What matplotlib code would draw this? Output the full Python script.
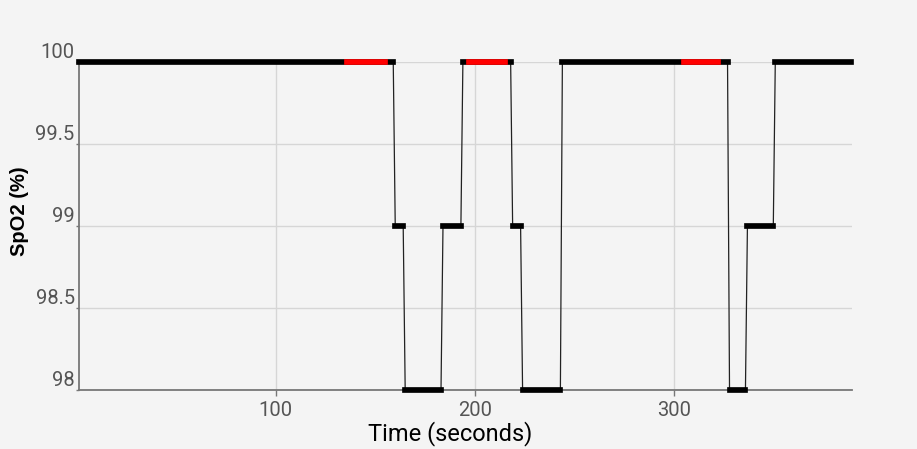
import matplotlib
matplotlib.use("Agg")
import matplotlib.pyplot as plt

# ── Data (seconds, SpO2 %) ─────────────────────────────────────────
seg_start = [1, 160, 165, 184, 194, 219, 224, 244, 328, 337, 351]
seg_end = [159, 164, 183, 193, 218, 223, 243, 327, 336, 350, 389]
seg_value = [100, 99, 98, 99, 100, 99, 98, 100, 98, 99, 100]

# highlighted stretches (drawn in red)
red_start = [136, 197, 305]
red_end = [155, 215, 322]
red_value = [100, 100, 100]

y_ticks = [98, 98.5, 99, 99.5, 100]
y_tick_labels = ["98", "98.5", "99", "99.5", "100"]
x_ticks = [100, 200, 300]

BG = "#f4f4f4"
plt.rcParams["font.family"] = ["Roboto", "DejaVu Sans"]

fig = plt.figure(figsize=(9.17, 4.49), dpi=100, facecolor=BG)
ax = fig.add_axes([0.086, 0.1314, 0.843, 0.7305], facecolor=BG)

# thin connecting trace
xs, ys = [], []
for s, e, v in zip(seg_start, seg_end, seg_value):
    xs += [s, e]
    ys += [v, v]
ax.plot(xs, ys, color="#222222", lw=0.9, zorder=3, clip_on=False)

# thick plateaus
for s, e, v in zip(seg_start, seg_end, seg_value):
    ax.plot([s, e], [v, v], color="black", lw=4.1, solid_capstyle="projecting",
            zorder=4, clip_on=False)
for s, e, v in zip(red_start, red_end, red_value):
    ax.plot([s, e], [v, v], color="#ff0000", lw=4.1, solid_capstyle="projecting",
            zorder=5, clip_on=False)

ax.set_xlim(1, 389.5)
ax.set_ylim(98, 100)
ax.set_xticks(x_ticks)
ax.set_yticks(y_ticks)
ax.set_yticklabels(y_tick_labels)
ax.grid(True, color="#d6d6d6", lw=1.0, zorder=0)

for side in ("top", "right"):
    ax.spines[side].set_visible(False)
for side in ("left", "bottom"):
    ax.spines[side].set_color("#777777")
    ax.spines[side].set_linewidth(1.3)

ax.tick_params(axis="x", length=4, width=1, color="#777777", pad=4,
               labelsize=14.5, labelcolor="#555555")
ax.tick_params(axis="y", length=2, width=1, color="#777777", pad=1,
               labelsize=14.5, labelcolor="#555555")
for lab in ax.get_yticklabels():
    lab.set_verticalalignment("bottom")

ax.set_xlabel("Time (seconds)", fontsize=17, color="black")
ax.xaxis.set_label_coords((450 - 79) / 773, -(434 - 390) / 328)
ax.xaxis.label.set_verticalalignment("center")
ax.set_ylabel("SpO2 (%)", fontsize=14.5, fontweight="bold", color="black",
              family=["Liberation Sans", "DejaVu Sans"])
ax.yaxis.set_label_coords((19.5 - 79) / 773, (390 - 211.5) / 328)
ax.yaxis.label.set_verticalalignment("center")

fig.savefig("out.png", dpi=100, facecolor=BG)
